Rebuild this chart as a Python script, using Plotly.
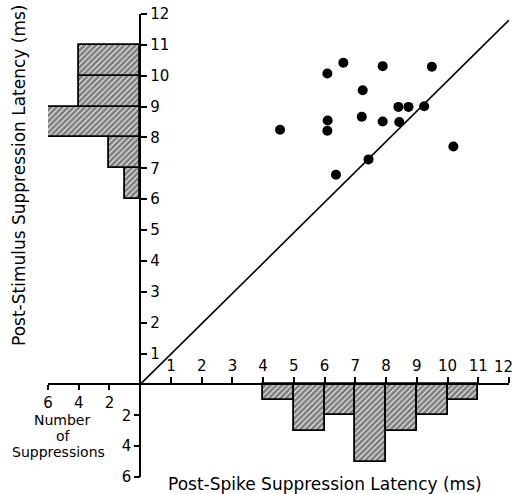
import plotly.graph_objects as go

# ---------------- data ----------------
# scatter: post-spike latency (x, ms) vs post-stimulus latency (y, ms)
spike_latency = [4.55, 6.09, 6.61, 7.89, 9.49, 7.24, 6.10, 6.09, 7.21, 7.89,
                 8.40, 8.73, 9.24, 8.43, 10.19, 7.43, 6.37]
stim_latency = [8.25, 10.07, 10.42, 10.31, 10.29, 9.53, 8.55, 8.22, 8.67, 8.52,
                8.99, 8.99, 9.01, 8.50, 7.71, 7.29, 6.79]

# identity-like reference line
diag_x = [0, 12.0]
diag_y = [0, 11.8]

# histogram of post-stimulus latency (left), lower bin edges and counts
stim_bins = [6, 7, 8, 9, 10]
stim_counts = [1, 2, 6, 4, 4]

# histogram of post-spike latency (bottom)
spike_bins = [4, 5, 6, 7, 8, 9, 10]
spike_counts = [1, 3, 2, 5, 3, 2, 1]

main_ticks = list(range(1, 13))
main_tick_text = [str(t) for t in main_ticks]
count_ticks = [2, 4, 6]

FONT = "DejaVu Sans"
BLACK = "black"

fig = go.Figure()

fig.add_trace(go.Scatter(
    x=diag_x, y=diag_y, mode="lines",
    line=dict(color=BLACK, width=1.6), hoverinfo="skip", showlegend=False))

fig.add_trace(go.Scatter(
    x=spike_latency, y=stim_latency, mode="markers",
    marker=dict(color=BLACK, size=10), showlegend=False))

hatch = dict(shape="/", fgcolor=BLACK, bgcolor="white", size=4, solidity=0.75)

fig.add_trace(go.Bar(
    orientation="h",
    x=stim_counts, y=[b + 0.5 for b in stim_bins], width=1, base=0,
    xaxis="x2", yaxis="y",
    marker=dict(color="white", pattern=hatch, line=dict(color=BLACK, width=1.8)),
    showlegend=False))

fig.add_trace(go.Bar(
    x=[b + 0.5 for b in spike_bins], y=spike_counts, width=1, base=0,
    xaxis="x", yaxis="y2",
    marker=dict(color="white", pattern=hatch, line=dict(color=BLACK, width=1.8)),
    showlegend=False))

tickfont = dict(family=FONT, size=15, color=BLACK)
common = dict(showgrid=False, zeroline=False, ticks="outside",
              tickwidth=1.5, tickcolor=BLACK, tickfont=tickfont, fixedrange=True,
              ticklabeloverflow="allow", automargin=False)

label_font = dict(family=FONT, size=14, color=BLACK)


def px_to_paper_x(px):
    return (px - 48) / 461


def px_to_paper_y(py):
    return (477 - py) / 463


fig.update_layout(
    width=516, height=494,
    margin=dict(l=48, r=7, t=14, b=17, pad=0, autoexpand=False),
    paper_bgcolor="white", plot_bgcolor="white",
    font=dict(family=FONT, color=BLACK),
    bargap=0,
    # main x axis: ticks 1..12 (last label placed as an annotation, nudged inward)
    xaxis=dict(range=[-3, 12], anchor="free", position=0.2, side="top",
               tickvals=main_ticks, ticktext=main_tick_text[:-1] + [""],
               showline=True, linecolor=BLACK, linewidth=2, ticklen=6, **common),
    yaxis=dict(range=[-3, 12], anchor="free", position=0.2, side="right",
               tickvals=main_ticks, showline=True,
               linecolor=BLACK, linewidth=2, ticklen=6, **common),
    xaxis2=dict(range=[6, -24], overlaying="x", anchor="free", position=0.2,
                side="bottom", tickvals=count_ticks,
                showline=False, ticklen=5, **common),
    yaxis2=dict(range=[6, -24], overlaying="y", anchor="free", position=0.2,
                side="left", tickvals=count_ticks,
                showline=False, ticklen=6, **common),
    annotations=[
        dict(text=main_tick_text[-1], xref="x", yref="y",
             x=main_ticks[-1], y=0, xanchor="center", yanchor="middle",
             xshift=-6, yshift=17, showarrow=False, font=tickfont),
        dict(text="Post-Stimulus Suppression Latency (ms)", textangle=-90,
             xref="paper", yref="paper", x=px_to_paper_x(19), y=px_to_paper_y(175),
             xanchor="center", yanchor="middle", showarrow=False,
             font=dict(family=FONT, size=17, color=BLACK)),
        dict(text="Post-Spike Suppression Latency (ms)",
             xref="paper", yref="paper", x=px_to_paper_x(325), y=px_to_paper_y(484),
             xanchor="center", yanchor="middle", showarrow=False,
             font=dict(family=FONT, size=17, color=BLACK)),
        dict(text="Number", xref="paper", yref="paper",
             x=px_to_paper_x(62), y=px_to_paper_y(420),
             xanchor="center", yanchor="middle", showarrow=False, font=label_font),
        dict(text="of", xref="paper", yref="paper",
             x=px_to_paper_x(63), y=px_to_paper_y(436),
             xanchor="center", yanchor="middle", showarrow=False, font=label_font),
        dict(text="Suppressions", xref="paper", yref="paper",
             x=px_to_paper_x(58), y=px_to_paper_y(452),
             xanchor="center", yanchor="middle", showarrow=False, font=label_font),
    ],
)

fig.write_html("out.html")
